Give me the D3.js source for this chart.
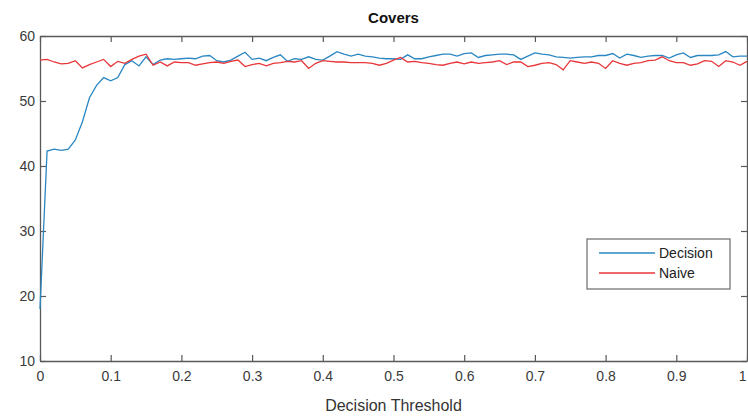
<!DOCTYPE html>
<html>
<head>
<meta charset="utf-8">
<script src="https://cdn.jsdelivr.net/npm/d3@7"></script>
<style>
  body { margin: 0; background: #fff; }
  text { font-family: "Liberation Sans", Arial, sans-serif; }
</style>
</head>
<body>
<script>
  // x values: decision threshold 0..1 in 0.01 steps
  var thresholds = d3.range(0, 101).map(function(i) { return i / 100; });

  var decision = [
    18.0, 42.3, 42.6, 42.4, 42.6, 44.0, 46.8, 50.5, 52.4, 53.6,
    53.1, 53.6, 55.6, 56.2, 55.4, 56.8, 55.6, 56.3, 56.5, 56.4,
    56.5, 56.6, 56.5, 56.9, 57.0, 56.2, 56.0, 56.3, 56.9, 57.5,
    56.4, 56.6, 56.2, 56.7, 57.1, 56.1, 56.5, 56.4, 56.8, 56.4,
    56.3, 56.9, 57.6, 57.2, 56.9, 57.2, 56.9, 56.8, 56.6, 56.5,
    56.5, 56.4, 57.1, 56.5, 56.5, 56.8, 57.0, 57.2, 57.2, 56.9,
    57.3, 57.4, 56.7, 57.0, 57.1, 57.2, 57.2, 57.1, 56.4, 56.9,
    57.4, 57.2, 57.1, 56.8, 56.7, 56.6, 56.7, 56.8, 56.8, 57.0,
    57.0, 57.3, 56.6, 57.2, 57.0, 56.7, 56.9, 57.0, 57.0, 56.6,
    57.1, 57.4, 56.7, 57.0, 57.0, 57.0, 57.1, 57.6, 56.8, 56.9,
    56.9
  ];

  var naive = [
    56.3, 56.4, 56.0, 55.7, 55.8, 56.2, 55.1, 55.6, 56.0, 56.4,
    55.3, 56.1, 55.8, 56.4, 56.9, 57.2, 55.5, 56.0, 55.4, 56.0,
    55.9, 55.9, 55.5, 55.7, 55.9, 56.0, 55.8, 56.1, 56.3, 55.3,
    55.6, 55.8, 55.4, 55.8, 55.9, 56.1, 56.0, 56.2, 55.0, 55.8,
    56.2, 56.1, 56.0, 56.0, 55.9, 55.9, 55.9, 55.8, 55.5, 55.8,
    56.3, 56.7, 56.0, 56.1, 55.9, 55.8, 55.6, 55.5, 55.8, 56.0,
    55.7, 56.0, 55.8, 55.9, 56.0, 56.2, 55.6, 56.0, 56.0, 55.3,
    55.5, 55.8, 55.9, 55.6, 54.8, 56.2, 56.0, 55.8, 56.0, 55.8,
    55.0, 56.2, 55.8, 55.5, 55.8, 55.9, 56.2, 56.3, 56.8, 56.2,
    55.9, 55.9, 55.5, 55.7, 56.2, 56.1, 55.3, 56.2, 56.0, 55.5,
    56.1
  ];

  var xTicks = [0, 0.1, 0.2, 0.3, 0.4, 0.5, 0.6, 0.7, 0.8, 0.9, 1];
  var yTicks = [10, 20, 30, 40, 50, 60];
  var seriesNames = ["Decision", "Naive"];

  var W = 748, H = 417;
  var margin = {top: 36, right: 1, bottom: 56, left: 40},
      width = W - margin.left - margin.right,
      height = H - margin.top - margin.bottom;

  var color = d3.scaleOrdinal().domain(seriesNames).range(["#2a87c2", "#e8363a"]);

  var x = d3.scaleLinear().domain([0, 1]).range([0, width]);
  var y = d3.scaleLinear().domain([10, 60]).range([height, 0]);

  var svg = d3.select("body").append("svg")
      .attr("width", W)
      .attr("height", H);

  var g = svg.append("g")
      .attr("transform", "translate(" + margin.left + "," + margin.top + ")");

  var axisColor = "#595959";
  var tl = 6;

  // axes, matlab style: ticks pointing in, box all round
  var axBottom = g.append("g")
      .attr("transform", "translate(0," + height + ")")
      .call(d3.axisBottom(x).tickValues(xTicks).tickSizeInner(-tl).tickSizeOuter(0).tickPadding(10)
        .tickFormat(function(d) { return d === 0 || d === 1 ? d : d3.format(".1f")(d); }));
  var axTop = g.append("g")
      .call(d3.axisTop(x).tickValues(xTicks).tickSizeInner(-tl).tickSizeOuter(0).tickFormat(""));
  var axLeft = g.append("g")
      .call(d3.axisLeft(y).tickValues(yTicks).tickSizeInner(-tl).tickSizeOuter(0).tickPadding(5));
  var axRight = g.append("g")
      .attr("transform", "translate(" + width + ",0)")
      .call(d3.axisRight(y).tickValues(yTicks).tickSizeInner(-tl).tickSizeOuter(0).tickFormat(""));

  [axBottom, axTop, axLeft, axRight].forEach(function(a) {
    a.select(".domain").attr("stroke", axisColor).attr("stroke-width", 1.3);
    a.selectAll(".tick line").attr("stroke", axisColor).attr("stroke-width", 1.2);
    a.selectAll(".tick text")
      .attr("fill", "#3a3a3a")
      .style("font-size", "14px")
      .style("font-family", "Liberation Sans, Arial, sans-serif");
  });

  // keep the "1" inside the window
  axBottom.selectAll(".tick text").filter(function(d) { return d === 1; })
      .attr("text-anchor", "end").attr("dx", "-1");

  var line = d3.line()
      .x(function(d, i) { return x(thresholds[i]); })
      .y(function(d) { return y(d); });

  g.append("path")
      .datum(decision)
      .attr("fill", "none")
      .attr("stroke", color("Decision"))
      .attr("stroke-width", 1.3)
      .attr("d", line);

  g.append("path")
      .datum(naive)
      .attr("fill", "none")
      .attr("stroke", color("Naive"))
      .attr("stroke-width", 1.3)
      .attr("d", line);

  // title + x label
  svg.append("text")
      .attr("x", margin.left + width / 2)
      .attr("y", 23)
      .attr("text-anchor", "middle")
      .style("font-size", "15px")
      .style("font-weight", "bold")
      .attr("fill", "#111")
      .text("Covers");

  svg.append("text")
      .attr("x", margin.left + width / 2)
      .attr("y", 411)
      .attr("text-anchor", "middle")
      .style("font-size", "16px")
      .attr("fill", "#333")
      .text("Decision Threshold");

  // legend
  var lg = svg.append("g").attr("transform", "translate(587,239)");
  lg.append("rect")
      .attr("width", 143)
      .attr("height", 50)
      .attr("fill", "#fff")
      .attr("stroke", "#6a6a6a")
      .attr("stroke-width", 1.2);

  seriesNames.forEach(function(name, i) {
    var yy = 14 + i * 20;
    lg.append("line")
        .attr("x1", 12).attr("x2", 68)
        .attr("y1", yy).attr("y2", yy)
        .attr("stroke", color(name))
        .attr("stroke-width", 1.3);
    lg.append("text")
        .attr("x", 72)
        .attr("y", yy + 5)
        .style("font-size", "14px")
        .attr("fill", "#222")
        .text(name);
  });
</script>
</body>
</html>
